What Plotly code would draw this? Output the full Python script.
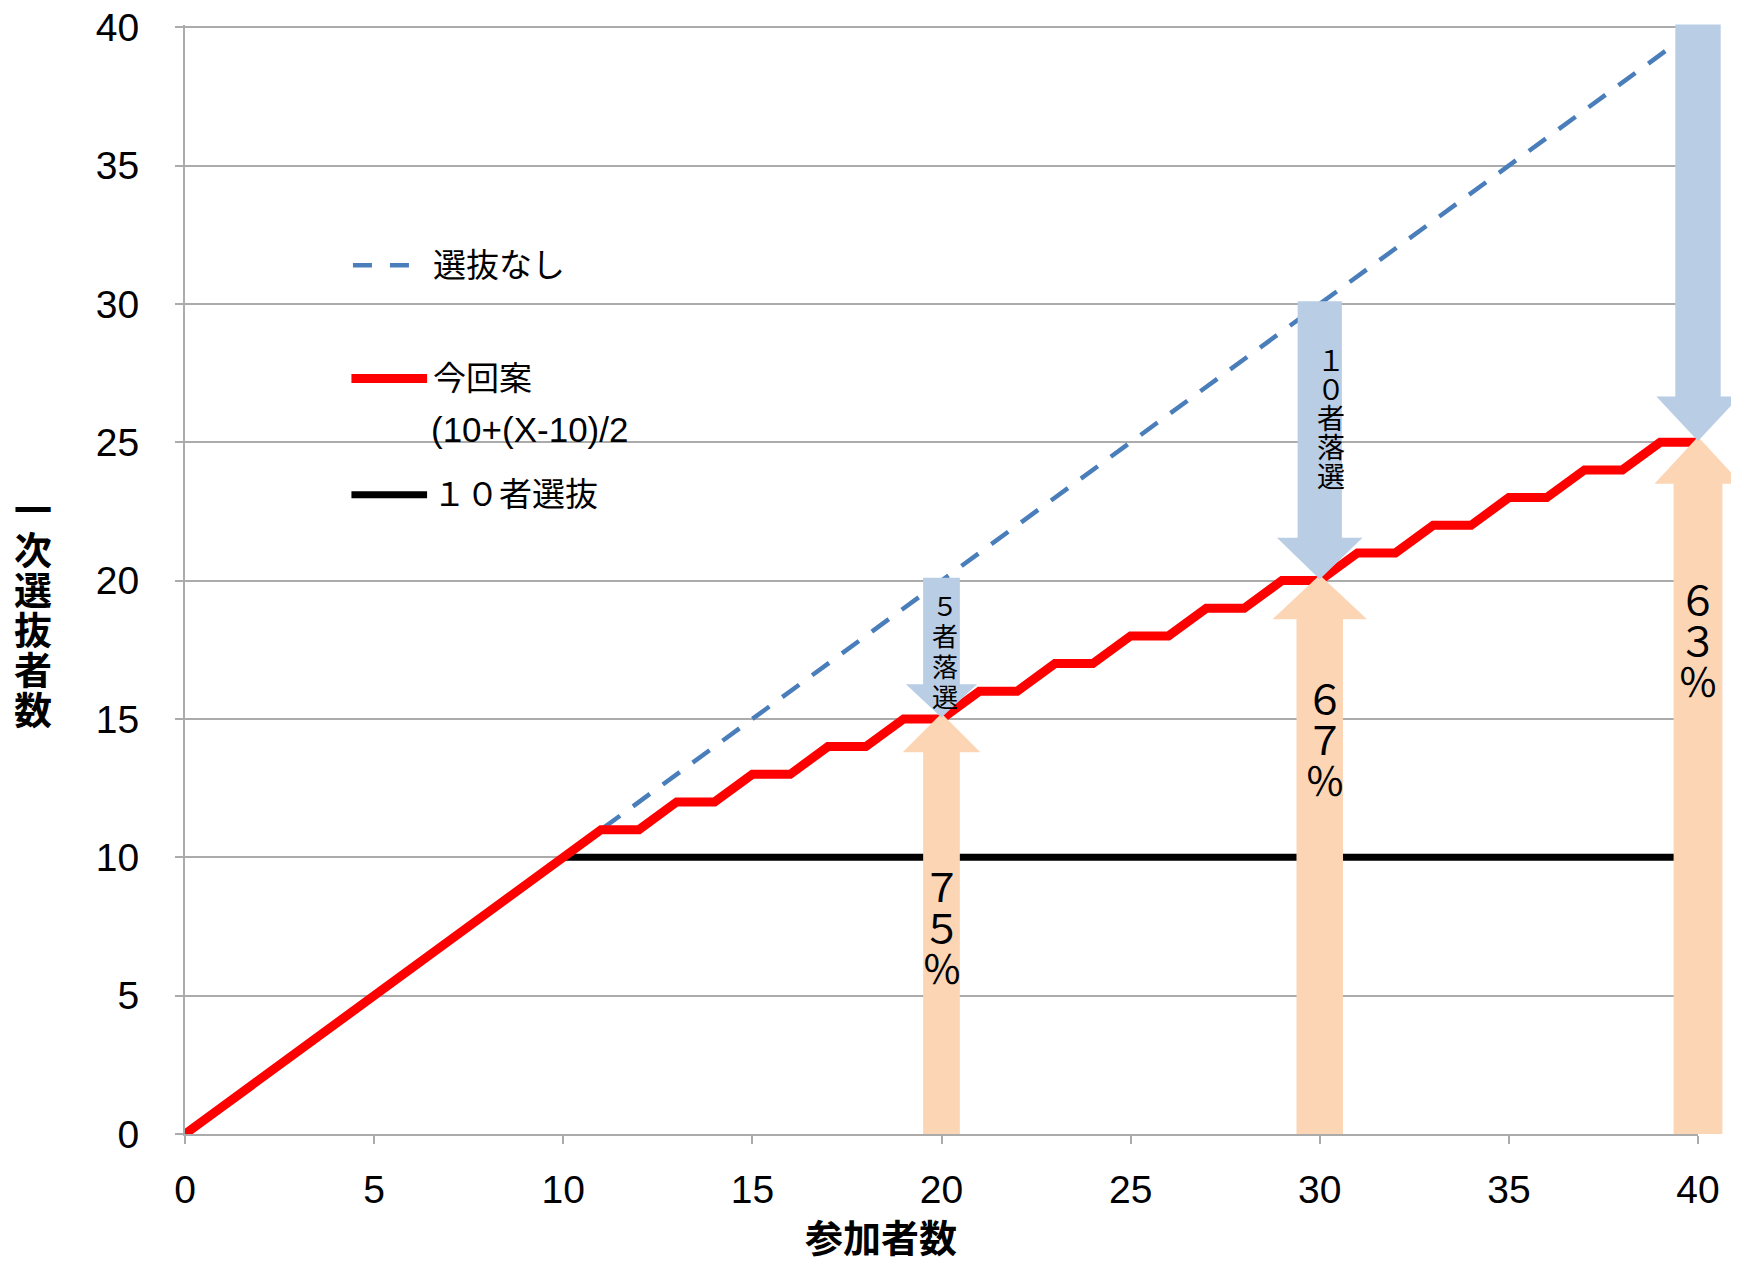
import plotly.graph_objects as go

# ---------------- data ----------------
participants = [0, 10, 11, 12, 13, 14, 15, 16, 17, 18, 19, 20, 21, 22, 23, 24, 25,
                26, 27, 28, 29, 30, 31, 32, 33, 34, 35, 36, 37, 38, 39, 40]
proposal = [0, 10, 11, 11, 12, 12, 13, 13, 14, 14, 15, 15, 16, 16, 17, 17, 18,
            18, 19, 19, 20, 20, 21, 21, 22, 22, 23, 23, 24, 24, 25, 25]
no_selection_x = [0, 40]
no_selection_y = [0, 40]
ten_x = [0, 10, 40]
ten_y = [0, 10, 10]

arrow_x = [20, 30, 40]
arrow_top = [20, 30, 40]       # 選抜なし value at the arrow
arrow_tip = [15, 20, 25]       # 今回案 value at the arrow
dropped_labels = ["５者落選", "１０者落選", "１５者落選"]
rate_labels = ["７５％", "６７％", "６３％"]

x_ticks = [0, 5, 10, 15, 20, 25, 30, 35, 40]
y_ticks = [0, 5, 10, 15, 20, 25, 30, 35, 40]

legend_names = ["選抜なし", "今回案", "１０者選抜"]
legend_sub = "(10+(X-10)/2"
x_title = "参加者数"
y_title = "一次選抜者数"

# ---------------- styles ----------------
X_RANGE = [0, 40]
Y_RANGE = [0, 40.08]
FONT = "Liberation Sans, Arial, Noto Sans CJK JP, sans-serif"
CJK = "Noto Sans CJK JP, sans-serif"
GRID = "#ABABAB"
BLUE_LINE = "#4A7EBB"
BLUE_ARROW = "#B9CDE5"
ORANGE_ARROW = "#FCD5B5"
PAGE_OFFSET = 8  # default body margin of the html page

# arrow geometry (x-units / y-units)
down_shaft = [0.97, 1.17, 1.2]
down_head_w = [1.88, 2.26, 2.2]
down_head_h = [1.2, 1.5, 1.6]
up_shaft = [0.97, 1.23, 1.29]
up_head_w = [2.05, 2.5, 2.3]
up_head_h = [1.4, 1.6, 1.7]

down_text_pos = [(0.1, 17.5, 26, 30.5), (0.3, 25.9, 28, 29), (0.3, 34.8, 28, 29.5)]
up_text_pos = [(0.0, 7.5, 40, 41), (0.15, 14.3, 40, 41), (0.0, 17.9, 40, 41)]


def px(x):
    return (x - X_RANGE[0]) / (X_RANGE[1] - X_RANGE[0])


def py(y):
    return (y - Y_RANGE[0]) / (Y_RANGE[1] - Y_RANGE[0])


fig = go.Figure()

fig.add_trace(go.Scatter(x=no_selection_x, y=no_selection_y, mode="lines",
                         line=dict(color=BLUE_LINE, width=4.5, dash="21px,16px"),
                         showlegend=False, hoverinfo="skip"))
fig.add_trace(go.Scatter(x=ten_x, y=ten_y, mode="lines",
                         line=dict(color="black", width=7),
                         showlegend=False, hoverinfo="skip"))
fig.add_trace(go.Scatter(x=participants, y=proposal, mode="lines",
                         line=dict(color="#FF0000", width=9),
                         showlegend=False, hoverinfo="skip"))

shapes = []
# orange up arrows (from 0 up to the proposal value)
for i, x in enumerate(arrow_x):
    tip = arrow_tip[i] + 0.2
    sw, hw, hh = up_shaft[i], up_head_w[i], up_head_h[i]
    base = tip - hh
    path = (f"M {px(x - sw/2)},{py(0)} L {px(x + sw/2)},{py(0)} "
            f"L {px(x + sw/2)},{py(base)} L {px(x + hw/2)},{py(base)} "
            f"L {px(x)},{py(tip)} L {px(x - hw/2)},{py(base)} "
            f"L {px(x - sw/2)},{py(base)} Z")
    shapes.append(dict(type="path", path=path, xref="paper", yref="paper",
                       fillcolor=ORANGE_ARROW, line=dict(width=0), layer="above"))
# blue down arrows (from no-selection value down to proposal value)
for i, x in enumerate(arrow_x):
    top = arrow_top[i] + 0.1
    tip = arrow_tip[i] + 0.05
    sw, hw, hh = down_shaft[i], down_head_w[i], down_head_h[i]
    base = tip + hh
    path = (f"M {px(x - sw/2)},{py(top)} L {px(x + sw/2)},{py(top)} "
            f"L {px(x + sw/2)},{py(base)} L {px(x + hw/2)},{py(base)} "
            f"L {px(x)},{py(tip)} L {px(x - hw/2)},{py(base)} "
            f"L {px(x - sw/2)},{py(base)} Z")
    shapes.append(dict(type="path", path=path, xref="paper", yref="paper",
                       fillcolor=BLUE_ARROW, line=dict(width=0), layer="above"))

# legend samples
shapes.append(dict(type="line", x0=4.44, x1=5.97, y0=31.4, y1=31.4, xref="x", yref="y",
                   line=dict(color=BLUE_LINE, width=4.5, dash="19px,18px")))
shapes.append(dict(type="line", x0=4.4, x1=6.4, y0=27.3, y1=27.3, xref="x", yref="y",
                   line=dict(color="#FF0000", width=9)))
shapes.append(dict(type="line", x0=4.4, x1=6.4, y0=23.1, y1=23.1, xref="x", yref="y",
                   line=dict(color="black", width=7)))

annotations = []


def vertical_text(x, y, text, size, spacing, xshift=0, bold=False, xref="x", yref="y"):
    n = len(text)
    for k, ch in enumerate(text):
        annotations.append(dict(
            x=x, y=y, xref=xref, yref=yref, text=f"<b>{ch}</b>" if bold else ch,
            showarrow=False, xanchor="center", yanchor="middle",
            xshift=xshift, yshift=-(k - (n - 1) / 2) * spacing,
            font=dict(family=CJK, size=size, color="black")))


for i, x in enumerate(arrow_x):
    dx, yc, size, sp = down_text_pos[i]
    vertical_text(x + dx, yc, dropped_labels[i], size, sp)
    dx, yc, size, sp = up_text_pos[i]
    vertical_text(x + dx, yc, rate_labels[i], size, sp)

# legend texts
legend_y = [31.4, 27.3, 23.1]
for name, yv in zip(legend_names, legend_y):
    annotations.append(dict(x=6.5, y=yv, xref="x", yref="y", text=name, showarrow=False,
                            xanchor="left", yanchor="middle",
                            font=dict(family=FONT, size=33, color="black")))
annotations.append(dict(x=6.45, y=25.45, xref="x", yref="y", text=legend_sub, showarrow=False,
                        xanchor="left", yanchor="middle",
                        font=dict(family=FONT, size=35, color="black")))

# axis titles
annotations.append(dict(x=18.4, y=0, xref="x", yref="paper", text=f"<b>{x_title}</b>",
                        showarrow=False, xanchor="center", yanchor="middle", yshift=-101,
                        font=dict(family=CJK, size=38, color="black")))
vertical_text(0, 0.475, y_title, 38, 40, xshift=-152, bold=True, xref="paper", yref="paper")

fig.update_layout(
    width=1739 - PAGE_OFFSET, height=1262 - PAGE_OFFSET,
    margin=dict(l=185 - PAGE_OFFSET, r=41, t=25 - PAGE_OFFSET, b=128),
    paper_bgcolor="white", plot_bgcolor="white",
    shapes=shapes, annotations=annotations,
    showlegend=False,
    xaxis=dict(range=X_RANGE, tickvals=x_ticks, showgrid=False, zeroline=False,
               showline=True, linecolor=GRID, linewidth=2, automargin=False,
               ticks="outside", ticklen=8, tickcolor=GRID, tickwidth=2,
               ticklabelstandoff=12, ticklabeloverflow="allow",
               tickfont=dict(family=FONT, size=39, color="black")),
    yaxis=dict(range=Y_RANGE, tickvals=y_ticks, showgrid=True, gridcolor=GRID, gridwidth=2,
               zeroline=False, showline=True, linecolor=GRID, linewidth=2, automargin=False,
               ticks="outside", ticklen=8, tickcolor=GRID, tickwidth=2,
               ticklabelstandoff=28, ticklabeloverflow="allow",
               tickfont=dict(family=FONT, size=39, color="black")),
)

fig.write_html("out.html")
